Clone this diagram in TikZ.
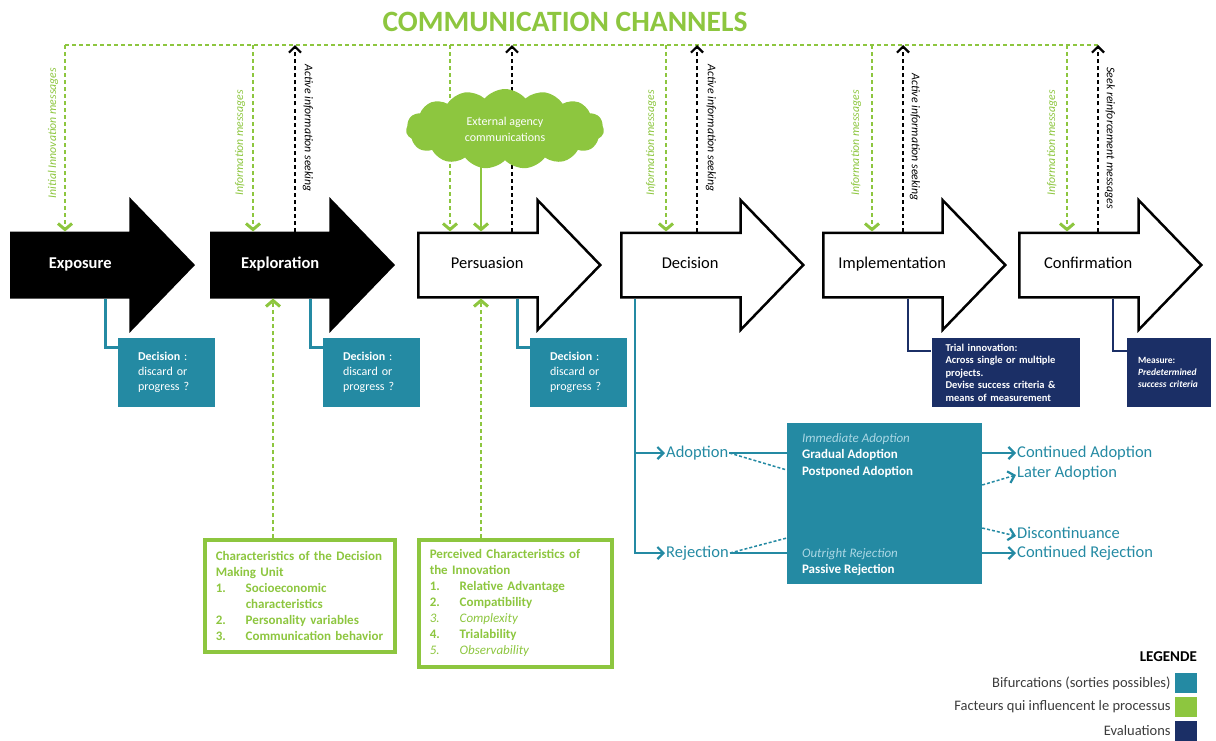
\documentclass[tikz,border=0pt]{standalone}
\usepackage{fontspec}
\setmainfont{Carlito}
\usetikzlibrary{shapes.arrows,shapes.symbols,arrows.meta,positioning}
\definecolor{ccgreen}{RGB}{141,198,63}
\definecolor{ccteal}{RGB}{36,138,163}
\definecolor{ccnavy}{RGB}{27,47,102}
\definecolor{cclight}{RGB}{170,215,228}
\definecolor{ccgray}{RGB}{60,60,60}
\newcommand\facitem[2]{\makebox[30pt][l]{#1}#2}

\begin{document}
\begin{tikzpicture}[x=1pt,y=-1pt,
  stage/.style={single arrow, draw=black, line width=2.5pt, minimum height=182pt, minimum width=127pt,
    single arrow head extend=32.5pt, single arrow tip angle=92, inner xsep=0pt, inner ysep=24.5pt,
    text height=10pt, text depth=3pt, anchor=tail, execute at end node={\hspace{13pt}}},
  done/.style={stage, fill=black, text=white, font=\fontsize{16.5}{17}\selectfont\bfseries},
  todo/.style={stage, fill=white, font=\fontsize{16.5}{17}\selectfont},
  chan/.style={ccgreen, line width=1.2pt, dash pattern=on 4pt off 3pt},
  msg/.style={chan, -{Straight Barb[length=6pt,width=14pt,line width=3pt]}},
  seek/.style={black, line width=1.2pt, dash pattern=on 4pt off 3pt, -{Straight Barb[length=6pt,width=12pt,line width=2.2pt]}},
  ext/.style={ccgreen, line width=1.5pt, -{Straight Barb[length=6pt,width=14pt,line width=3pt]}},
  msglab/.style={rotate=90, text=ccgreen, font=\fontsize{11.8}{12}\selectfont\itshape},
  seeklab/.style={rotate=-90, font=\fontsize{11.8}{12}\selectfont\itshape},
  bifbox/.style={fill=ccteal, text=white, minimum width=97pt, minimum height=69pt, text width=57pt,
    align=left, inner sep=0pt, font=\fontsize{12}{15}\selectfont},
  bif/.style={ccteal, line width=3pt},
  evalbox/.style={fill=ccnavy, text=white, minimum height=69pt, align=left, inner sep=0pt,
    font=\fontsize{9.5}{12}\selectfont\bfseries},
  eval/.style={ccnavy, line width=2.5pt},
  branch/.style={ccteal, line width=1.5pt},
  brarrow/.style={branch, -{Straight Barb[length=6pt,width=12pt,line width=2.2pt]}},
  brdash/.style={dash pattern=on 3pt off 2pt},
  outlab/.style={text=ccteal, inner sep=1pt, font=\fontsize{16.5}{17}\selectfont},
  outtxt/.style={text=white, align=left, inner sep=0pt, font=\fontsize{13}{16.5}\selectfont\bfseries},
  facbox/.style={draw=ccgreen, line width=3.5pt, text=ccgreen, align=left, inner xsep=11pt, inner ysep=6pt,
    anchor=north west, font=\fontsize{13}{16}\selectfont\bfseries},
  fac/.style={chan, -{Straight Barb[length=6pt,width=14pt,line width=3pt]}},
  swatch/.style={minimum width=22pt, minimum height=20pt, inner sep=0pt},
  leglab/.style={text=ccgray, inner sep=0pt, font=\fontsize{14.5}{15}\selectfont}]
\useasboundingbox (0,0) rectangle (1216,740);

\node[text=ccgreen, font=\fontsize{29.5}{30}\selectfont\bfseries] (cc) at (565,22) {COMMUNICATION CHANNELS};

\node[done] (expo) at (10,265) {Exposure};
\node[done] (explo) at (210,265) {Exploration};
\node[todo] (pers) at (417,265) {Persuasion};
\node[todo] (deci) at (620,265) {Decision};
\node[todo] (impl) at (822,265) {Implementation};
\node[todo] (conf) at (1018,265) {Confirmation};

\coordinate (t1) at (65,45);
\coordinate (t2) at (253,45);
\coordinate (t3) at (450,45);
\coordinate (t4) at (666,45);
\coordinate (t5) at (872,45);
\coordinate (t6) at (1067,45);
\coordinate (s2) at (295,45);
\coordinate (s3) at (512,45);
\coordinate (s4) at (697,45);
\coordinate (s5) at (903,45);
\coordinate (s6) at (1098,45);

\draw[chan] (t1) -- (s6);
\draw[msg] (t1) -- (t1 |- expo.north);
\draw[msg] (t2) -- (t2 |- explo.north);
\draw[msg] (t3) -- (t3 |- pers.north);
\draw[msg] (t4) -- (t4 |- deci.north);
\draw[msg] (t5) -- (t5 |- impl.north);
\draw[msg] (t6) -- (t6 |- conf.north);
\draw[seek] (s2 |- explo.north) -- (s2);
\draw[seek] (s3 |- pers.north) -- (s3);
\draw[seek] (s4 |- deci.north) -- (s4);
\draw[seek] (s5 |- impl.north) -- (s5);
\draw[seek] (s6 |- conf.north) -- (s6);

\node[msglab] (m1) at (53,133) {Initial Innovation messages};
\node[msglab] (m2) at (240,143) {Information messages};
\node[seeklab] (a2) at (308,128) {Active information seeking};
\node[msglab] (m4) at (651,143) {Information messages};
\node[seeklab] (a4) at (711,128) {Active information seeking};
\node[msglab] (m5) at (856,143) {Information messages};
\node[seeklab] (a5) at (915,137) {Active information seeking};
\node[msglab] (m6) at (1052,143) {Information messages};
\node[seeklab] (a6) at (1110,138) {Seek reinforcement messages};

\node[cloud, cloud puffs=15, cloud puff arc=100, aspect=2.6, fill=ccgreen, text=white, minimum width=198pt, minimum height=80pt,
  align=center, font=\fontsize{12}{16}\selectfont] (agency) at (505,129) {External agency\\communications};
\coordinate (f1) at (273,0);
\coordinate (f2) at (481,0);
\draw[ext] (f2 |- agency.south) -- (f2 |- pers.north);

\node[bifbox] (dexpo) at (166.5,372.5) {\textbf{Decision} :\\discard or\\progress ?};
\node[bifbox] (dexplo) at (371.5,372.5) {\textbf{Decision} :\\discard or\\progress ?};
\node[bifbox] (dpers) at (578.5,372.5) {\textbf{Decision} :\\discard or\\progress ?};
\coordinate (b1) at (105,0);
\coordinate (b2) at (310,0);
\coordinate (b3) at (517,0);
\draw[bif] (b1 |- expo.south) |- ([yshift=-10pt]dexpo.north west);
\draw[bif] (b2 |- explo.south) |- ([yshift=-10pt]dexplo.north west);
\draw[bif] (b3 |- pers.south) |- ([yshift=-10pt]dpers.north west);

\node[evalbox, minimum width=148pt, text width=120pt, font=\fontsize{10.5}{12.5}\selectfont\bfseries] (eimpl) at (1005.5,372.5)
  {Trial innovation:\\Across single or multiple\\projects.\\Devise success criteria \&\\means of measurement};
\node[evalbox, minimum width=84pt, text width=62pt] (econf) at (1169,372.5)
  {Measure:\\\textit{Predetermined}\\\textit{success criteria}};
\coordinate (e1) at (908,0);
\coordinate (e2) at (1113,0);
\draw[eval] (e1 |- impl.south) |- ([yshift=-13pt]eimpl.north west);
\draw[eval] (e2 |- conf.south) |- ([yshift=-13pt]econf.north west);

\coordinate (d1) at (635,0);
\node[outlab, anchor=west] (adopt) at (665,453) {Adoption};
\node[outlab, anchor=west] (rejec) at (665,553) {Rejection};
\draw[brarrow] (d1 |- deci.south) |- (rejec.west);
\draw[brarrow] (d1 |- adopt.west) -- (adopt.west);

\node[fill=ccteal, minimum width=195pt, minimum height=161pt] (outc) at (884.5,503.5) {};
\node[outtxt, anchor=north west] (adtx) at ([xshift=15pt,yshift=-10pt]outc.north west)
  {{\mdseries\itshape\color{cclight}Immediate Adoption}\\Gradual Adoption\\Postponed Adoption};
\node[outtxt, anchor=south west] (rjtx) at ([xshift=15pt,yshift=8pt]outc.south west)
  {{\mdseries\itshape\color{cclight}Outright Rejection}\\Passive Rejection};
\draw[branch] (adopt.east) -- (adopt.east -| outc.west);
\draw[branch, brdash] (adopt.east) -- ([yshift=-17pt]adopt.east -| outc.west);
\draw[branch] (rejec.east) -- (rejec.east -| outc.west);
\draw[branch, brdash] (rejec.east) -- ([yshift=15pt]rejec.east -| outc.west);

\node[outlab, anchor=west] (cadopt) at (1016,453) {Continued Adoption};
\node[outlab, anchor=west] (ladopt) at (1016,473) {Later Adoption};
\node[outlab, anchor=west] (discont) at (1016,533) {Discontinuance};
\node[outlab, anchor=west] (crej) at (1016,553) {Continued Rejection};
\draw[brarrow] (outc.east |- cadopt.west) -- (cadopt.west);
\draw[brarrow, brdash] ([yshift=-12pt]outc.east |- ladopt.west) -- ([yshift=-2pt]ladopt.west);
\draw[brarrow, brdash] ([yshift=5pt]outc.east |- discont.west) -- ([yshift=-3pt]discont.west);
\draw[brarrow] (outc.east |- crej.west) -- (crej.west);

\node[facbox, text width=168pt, minimum height=112pt] (dmu) at (203,538)
  {Characteristics of the Decision\\Making Unit\\\facitem{1.}{Socioeconomic}\\\hspace*{30pt}characteristics\\
   \facitem{2.}{Personality variables}\\\facitem{3.}{Communication behavior}};
\node[facbox, text width=171pt, minimum height=127pt] (perc) at (417,538)
  {Perceived Characteristics of\\the Innovation\\\facitem{1.}{Relative Advantage}\\\facitem{2.}{Compatibility}\\
   {\mdseries\itshape\facitem{3.}{Complexity}}\\\facitem{4.}{Trialability}\\{\mdseries\itshape\facitem{5.}{Observability}}};
\draw[fac] (f1 |- dmu.north) -- (f1 |- explo.south);
\draw[fac] (f2 |- perc.north) -- (f2 |- pers.south);

\node[anchor=east, inner sep=0pt, font=\fontsize{15}{16}\selectfont\bfseries] (leg) at (1197,657) {LEGENDE};
\node[swatch, fill=ccteal] (sw1) at (1186,683) {};
\node[swatch, fill=ccgreen] (sw2) at (1186,707) {};
\node[swatch, fill=ccnavy] (sw3) at (1186,731) {};
\node[leglab, left=4pt of sw1] (lg1) {Bifurcations (sorties possibles)};
\node[leglab, left=4pt of sw2] (lg2) {Facteurs qui influencent le processus};
\node[leglab, left=4pt of sw3] (lg3) {Evaluations};
\end{tikzpicture}
\end{document}
